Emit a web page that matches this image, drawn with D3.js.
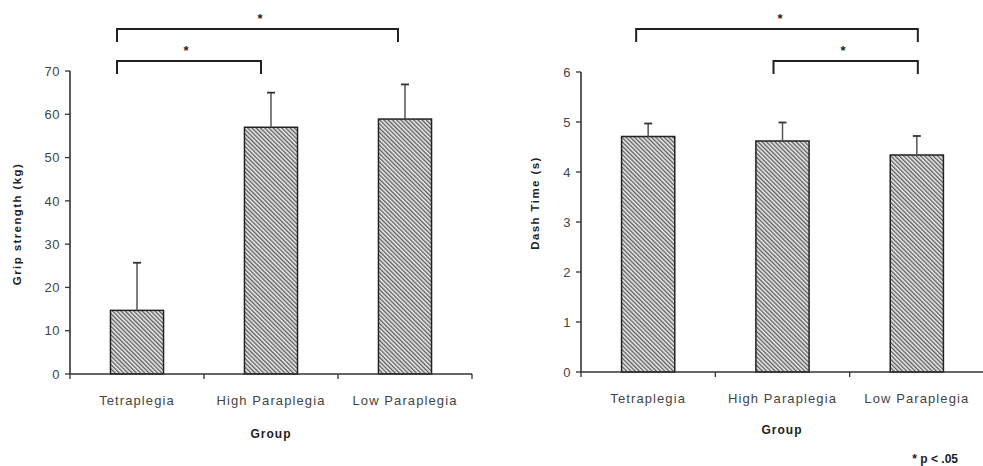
<!DOCTYPE html>
<html>
<head>
<meta charset="utf-8">
<script src="https://cdn.jsdelivr.net/npm/d3@7"></script>
<style>
  html, body { margin: 0; padding: 0; background: #fff; }
  svg { display: block; }
  text { font-family: "Liberation Sans", Arial, sans-serif; }
</style>
</head>
<body>
<svg id="chart" width="983" height="466"></svg>
<script>
// ---------------- DATA ----------------
const categories = ["Tetraplegia", "High Paraplegia", "Low Paraplegia"];

const gripMeans = [14.7, 57.0, 58.9];
const gripErrors = [11.0, 8.0, 8.0];
const gripTicks = [0, 10, 20, 30, 40, 50, 60, 70];
const gripComparisons = [
  { from: 0, to: 2, label: "*" },
  { from: 0, to: 1, label: "*" }
];

const dashMeans = [4.71, 4.62, 4.34];
const dashErrors = [0.26, 0.37, 0.38];
const dashTicks = [0, 1, 2, 3, 4, 5, 6];
const dashComparisons = [
  { from: 0, to: 2, label: "*" },
  { from: 1, to: 2, label: "*" }
];

const gripTitle = "Grip strength (kg)";
const dashTitle = "Dash Time (s)";
const xTitle = "Group";
const footnote = "* p < .05";

// ---------------- DRAWING ----------------
const svg = d3.select("#chart");
const defs = svg.append("defs");
const pat = defs.append("pattern")
  .attr("id", "hatch")
  .attr("patternUnits", "userSpaceOnUse")
  .attr("width", 3).attr("height", 3)
  .attr("patternTransform", "rotate(-45)");
pat.append("rect").attr("width", 3).attr("height", 3).attr("fill", "#eeeeee");
pat.append("line").attr("x1", 0.7).attr("x2", 0.7).attr("y1", 0).attr("y2", 3)
  .attr("stroke", "#555").attr("stroke-width", 1.3);

function drawPanel(cfg) {
  const g = svg.append("g");
  const x = d3.scaleBand().domain(categories).range([cfg.x0, cfg.x1])
    .paddingInner(0.604).paddingOuter(0.302);
  const y = d3.scaleLinear().domain([0, cfg.ticks[cfg.ticks.length - 1]]).range([cfg.yBottom, cfg.yTop]);
  const step = x.step();
  const axisColor = "#333";

  // bars
  g.selectAll("rect.bar").data(cfg.means).join("rect")
    .attr("class", "bar")
    .attr("x", (d, i) => x(categories[i]))
    .attr("width", x.bandwidth())
    .attr("y", d => y(d))
    .attr("height", d => y(0) - y(d))
    .attr("fill", "url(#hatch)")
    .attr("stroke", "#222").attr("stroke-width", 1.5);

  // error bars (upper only)
  const eb = g.selectAll("g.err").data(cfg.means).join("g").attr("class", "err");
  eb.append("line")
    .attr("x1", (d, i) => x(categories[i]) + x.bandwidth() / 2)
    .attr("x2", (d, i) => x(categories[i]) + x.bandwidth() / 2)
    .attr("y1", d => y(d))
    .attr("y2", (d, i) => y(d + cfg.errors[i]))
    .attr("stroke", "#555").attr("stroke-width", 1.5);
  eb.append("line")
    .attr("x1", (d, i) => x(categories[i]) + x.bandwidth() / 2 - 4)
    .attr("x2", (d, i) => x(categories[i]) + x.bandwidth() / 2 + 4)
    .attr("y1", (d, i) => y(d + cfg.errors[i]))
    .attr("y2", (d, i) => y(d + cfg.errors[i]))
    .attr("stroke", "#333").attr("stroke-width", 1.8);

  // y axis
  g.append("line").attr("x1", cfg.x0).attr("x2", cfg.x0)
    .attr("y1", y(0)).attr("y2", y(cfg.ticks[cfg.ticks.length - 1]))
    .attr("stroke", axisColor).attr("stroke-width", 1.6);
  g.selectAll("line.ytick").data(cfg.ticks).join("line")
    .attr("class", "ytick")
    .attr("x1", cfg.x0 - 5).attr("x2", cfg.x0)
    .attr("y1", d => y(d)).attr("y2", d => y(d))
    .attr("stroke", axisColor).attr("stroke-width", 1.3);
  g.selectAll("text.ylab").data(cfg.ticks).join("text")
    .attr("class", "ylab")
    .attr("x", cfg.x0 - 10).attr("y", d => y(d))
    .attr("dy", "0.36em")
    .attr("text-anchor", "end")
    .attr("font-size", 13).attr("fill", "#444").attr("letter-spacing", 0.5)
    .text(d => d);

  // x axis
  g.append("line").attr("x1", cfg.x0).attr("x2", cfg.x1)
    .attr("y1", y(0)).attr("y2", y(0))
    .attr("stroke", axisColor).attr("stroke-width", 1.6);
  const bounds = categories.map(c => x(c) - x.paddingOuter() * step).concat([cfg.x1]);
  g.selectAll("line.xtick").data(bounds).join("line")
    .attr("class", "xtick")
    .attr("x1", d => d).attr("x2", d => d)
    .attr("y1", y(0)).attr("y2", y(0) + 5)
    .attr("stroke", axisColor).attr("stroke-width", 1.3);
  g.selectAll("text.xlab").data(categories).join("text")
    .attr("class", "xlab")
    .attr("x", c => x(c) + x.bandwidth() / 2)
    .attr("y", y(0) + 31)
    .attr("text-anchor", "middle")
    .attr("font-size", 13).attr("fill", "#444").attr("letter-spacing", 1.1)
    .text(c => c);

  // axis titles
  g.append("text")
    .attr("transform", `translate(${cfg.yTitleX},${cfg.yTitleY}) rotate(-90)`)
    .attr("text-anchor", "middle")
    .attr("font-size", 11.5).attr("font-weight", "bold").attr("fill", "#222")
    .attr("letter-spacing", 1.4)
    .text(cfg.title);
  g.append("text")
    .attr("x", cfg.xTitleX).attr("y", cfg.xTitleY)
    .attr("text-anchor", "middle")
    .attr("font-size", 12).attr("font-weight", "bold").attr("fill", "#222")
    .attr("letter-spacing", 1)
    .text(xTitle);

  // significance brackets
  cfg.comparisons.forEach((cmp, k) => {
    const lvl = cfg.levels[k];
    const xa = x(categories[cmp.from]) + x.bandwidth() / 2 + cfg.dx[k][0];
    const xb = x(categories[cmp.to]) + x.bandwidth() / 2 + cfg.dx[k][1];
    g.append("path")
      .attr("d", `M${xa},${lvl + 13}V${lvl}H${xb}V${lvl + 13}`)
      .attr("fill", "none").attr("stroke", "#222").attr("stroke-width", 2);
    g.append("text")
      .attr("x", cfg.starX[k]).attr("y", lvl - 6)
      .attr("text-anchor", "middle")
      .attr("font-size", 13).attr("font-weight", "bold").attr("fill", "#222")
      .text(cmp.label);
  });
}

drawPanel({
  x0: 70, x1: 472, yBottom: 374, yTop: 71,
  means: gripMeans, errors: gripErrors, ticks: gripTicks,
  comparisons: gripComparisons, levels: [29, 61],
  dx: [[-20, -7], [-20, -10]], starX: [260, 186],
  title: gripTitle, yTitleX: 21, yTitleY: 224,
  xTitleX: 271, xTitleY: 438
});

drawPanel({
  x0: 581, x1: 984, yBottom: 372, yTop: 72,
  means: dashMeans, errors: dashErrors, ticks: dashTicks,
  comparisons: dashComparisons, levels: [29, 61],
  dx: [[-12, 1], [-9, 1]], starX: [780, 843],
  title: dashTitle, yTitleX: 539, yTitleY: 203,
  xTitleX: 782, xTitleY: 434
});

svg.append("text")
  .attr("x", 958).attr("y", 463)
  .attr("text-anchor", "end")
  .attr("font-size", 12).attr("font-weight", "bold").attr("fill", "#222")
  .text(footnote);
</script>
</body>
</html>
